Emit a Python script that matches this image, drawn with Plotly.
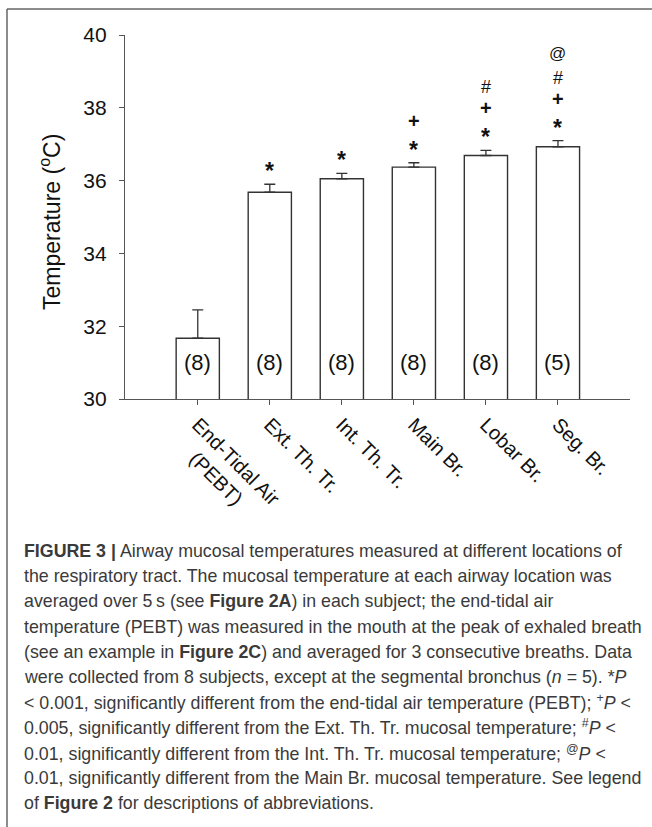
import plotly.graph_objects as go

# ---------------- data ----------------
categories = ["End-Tidal Air<br>\u00a0\u00a0\u00a0\u00a0(PEBT)", "Ext. Th. Tr.", "Int. Th. Tr.",
              "Main Br.", "Lobar Br.", "Seg. Br."]
means = [31.67, 35.68, 36.05, 36.37, 36.69, 36.93]
sems = [0.78, 0.22, 0.15, 0.12, 0.14, 0.17]
n_labels = ["(8)", "(8)", "(8)", "(8)", "(8)", "(5)"]
markers = [[], ["*"], ["*"], ["*", "+"], ["*", "+", "#"], ["*", "+", "#", "@"]]
y_ticks = [30, 32, 34, 36, 38, 40]
y_title = "Temperature (<sup>o</sup>C)"

caption_lines = [
    "<b>FIGURE 3 |</b> Airway mucosal temperatures measured at different locations of",
    "the respiratory tract. The mucosal temperature at each airway location was",
    "averaged over 5\u2009s (see <b>Figure 2A</b>) in each subject; the end-tidal air",
    "temperature (PEBT) was measured in the mouth at the peak of exhaled breath",
    "(see an example in <b>Figure 2C</b>) and averaged for 3 consecutive breaths. Data",
    "were collected from 8 subjects, except at the segmental bronchus (<i>n</i> = 5). *<i>P</i>",
    "&lt; 0.001, significantly different from the end-tidal air temperature (PEBT); <sup>+</sup><i>P</i> &lt;",
    "0.005, significantly different from the Ext. Th. Tr. mucosal temperature; <sup>#</sup><i>P</i> &lt;",
    "0.01, significantly different from the Int. Th. Tr. mucosal temperature; <sup>@</sup><i>P</i> &lt;",
    "0.01, significantly different from the Main Br. mucosal temperature. See legend",
    "of <b>Figure 2</b> for descriptions of abbreviations.",
]

# ---------------- layout constants ----------------
W, H = 652, 827
ML, MR, MT, MB = 125, 22, 35, 428
PW = W - ML - MR
PH = H - MT - MB
FONT = "Liberation Sans, Arial, sans-serif"
N_LABEL_Y = 31.0
MARK_STYLE = {  # symbol: (font size, bold, pixel offset above error-bar top)
    "*": (23, True, 13),
    "+": (20, True, 42),
    "#": (18, False, 63),
    "@": (17, False, 87),
}


def px_to_paper_x(px):
    return (px - ML) / PW


def px_to_paper_y(py):
    return (H - MB - py) / PH


x_idx = list(range(len(categories)))

fig = go.Figure()
fig.add_trace(go.Bar(
    x=x_idx, y=means, width=0.6,
    marker=dict(color="white", line=dict(color="#333333", width=1.4)),
    error_y=dict(type="data", symmetric=False, array=sems, arrayminus=[0] * len(sems),
                 color="#333333", thickness=1.3, width=5.5),
    showlegend=False, hoverinfo="skip",
))

annotations = []
for i, lab in enumerate(n_labels):
    annotations.append(dict(x=i, y=N_LABEL_Y, xref="x", yref="y", text=lab, showarrow=False,
                            font=dict(family=FONT, size=22, color="#111111")))
for i, marks in enumerate(markers):
    top = means[i] + sems[i]
    for m in marks:
        size, bold, off = MARK_STYLE[m]
        annotations.append(dict(x=i, y=top, xref="x", yref="y",
                                text=f"<b>{m}</b>" if bold else m, showarrow=False,
                                yshift=off, font=dict(family=FONT, size=size, color="#111111")))

# y-axis title
annotations.append(dict(x=px_to_paper_x(50), y=px_to_paper_y(222), xref="paper", yref="paper",
                        text=y_title, textangle=-90, showarrow=False,
                        xanchor="center", yanchor="middle",
                        font=dict(family=FONT, size=23, color="#111111")))

cap_top = 551
cap_step = 25.2
for j, line in enumerate(caption_lines):
    annotations.append(dict(x=px_to_paper_x(22), y=px_to_paper_y(cap_top + j * cap_step),
                            xref="paper", yref="paper", xanchor="left", yanchor="middle",
                            text=line, showarrow=False, align="left",
                            font=dict(family=FONT, size=17.8, color="#3a3a3a")))

shapes = [
    dict(type="line", xref="paper", yref="paper", x0=px_to_paper_x(7), x1=px_to_paper_x(W + 5),
         y0=px_to_paper_y(9), y1=px_to_paper_y(9), line=dict(color="#666666", width=1.5)),
    dict(type="line", xref="paper", yref="paper", x0=px_to_paper_x(7), x1=px_to_paper_x(7),
         y0=px_to_paper_y(9), y1=px_to_paper_y(H + 5), line=dict(color="#666666", width=1.5)),
]

fig.update_layout(
    width=W, height=H,
    margin=dict(l=ML, r=MR, t=MT, b=MB, autoexpand=False),
    paper_bgcolor="white", plot_bgcolor="white",
    font=dict(family=FONT, color="#111111"),
    annotations=annotations, shapes=shapes,
)
fig.update_xaxes(
    range=[-1.01, 6.0], tickmode="array", tickvals=x_idx, ticktext=categories,
    tickangle=45, showline=True, linecolor="#555555", linewidth=1.2,
    ticks="outside", ticklen=5, tickcolor="#555555", showgrid=False, zeroline=False,
    automargin=False, tickfont=dict(family=FONT, size=20, color="#111111"),
)
fig.update_yaxes(
    range=[30, 40], tickmode="array", tickvals=y_ticks, showline=True,
    linecolor="#555555", linewidth=1.2, ticks="outside", ticklen=5, tickcolor="#555555",
    showgrid=False, zeroline=False, automargin=False, ticklabelstandoff=8,
    tickfont=dict(family=FONT, size=21, color="#111111"),
)

fig.write_html("out.html", config={"displayModeBar": False},
               post_script="document.body.style.margin='0px';document.body.style.overflow='hidden';")
